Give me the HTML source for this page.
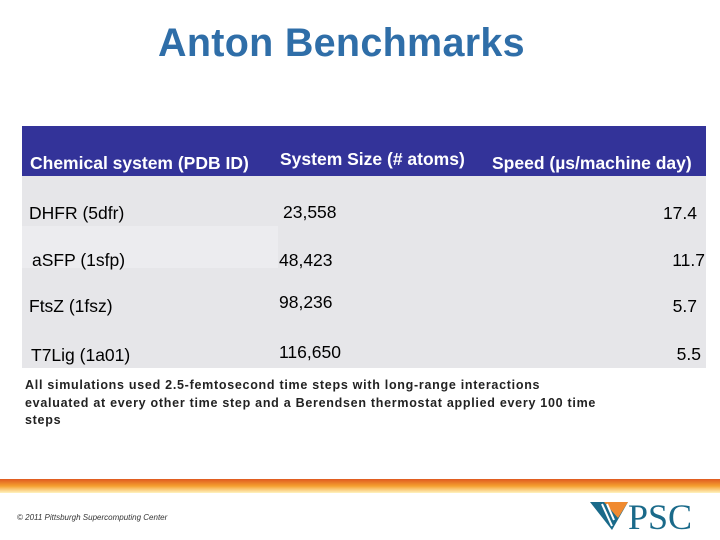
<!DOCTYPE html>
<html><head><meta charset="utf-8"><style>
body{margin:0;width:720px;height:540px;background:#fff;position:relative;overflow:hidden;font-family:"Liberation Sans",sans-serif}
.a{position:absolute;white-space:nowrap}
.h{color:#fff;font-weight:bold;font-size:17.5px}
.c{color:#000;font-size:17.5px}
.r{text-align:right}
</style></head><body>
<div class="a" style="left:158px;top:21px;font-size:39.5px;font-weight:bold;color:#2f6ea8;letter-spacing:0.3px">Anton Benchmarks</div>
<div class="a" style="left:22px;top:126px;width:684px;height:50px;background:#333399"></div>
<div class="a" style="left:22px;top:176px;width:684px;height:192px;background:#e6e6e9"></div>
<div class="a" style="left:22px;top:226px;width:256px;height:42px;background:#ececef"></div>
<div class="a h" style="left:30px;top:153px">Chemical system (PDB ID)</div>
<div class="a h" style="left:280px;top:149px">System Size (# atoms)</div>
<div class="a h" style="left:492px;top:153px">Speed (µs/machine day)</div>
<div class="a c" style="left:29px;top:203px">DHFR (5dfr)</div>
<div class="a c" style="left:283px;top:202px">23,558</div>
<div class="a c r" style="right:23px;top:203px">17.4</div>
<div class="a c" style="left:32px;top:250px">aSFP (1sfp)</div>
<div class="a c" style="left:279px;top:250px">48,423</div>
<div class="a c r" style="right:15px;top:250px">11.7</div>
<div class="a c" style="left:29px;top:296px">FtsZ (1fsz)</div>
<div class="a c" style="left:279px;top:292px">98,236</div>
<div class="a c r" style="right:23px;top:296px">5.7</div>
<div class="a c" style="left:31px;top:345px">T7Lig (1a01)</div>
<div class="a c" style="left:279px;top:342px">116,650</div>
<div class="a c r" style="right:19px;top:344px">5.5</div>
<div class="a" style="left:25px;top:377px;font-size:12.5px;font-weight:bold;color:#222;line-height:17.5px;letter-spacing:0.72px">All simulations used 2.5-femtosecond time steps with long-range interactions<br>evaluated at every other time step and a Berendsen thermostat applied every 100 time<br>steps</div>
<div class="a" style="left:0;top:479px;width:720px;height:14px;background:linear-gradient(#e05a20,#f5a030 50%,#fff3c0)"></div>
<div class="a" style="left:17px;top:513px;font-size:8px;font-style:italic;color:#333">© 2011 Pittsburgh Supercomputing Center</div>
<svg class="a" style="left:590px;top:502px" width="40" height="30"><polygon points="0,0 38,0 22,28" fill="#1a6a8a"/><polygon points="14,0 38,0 28,16" fill="#f08a30"/><path d="M12 2 L22 24 M17 2 L24 18" stroke="#fff" stroke-width="2"/></svg>
<div class="a" style="left:628px;top:496px;font-family:'Liberation Serif',serif;font-size:36px;color:#1a6a8a">PSC</div>
</body></html>
